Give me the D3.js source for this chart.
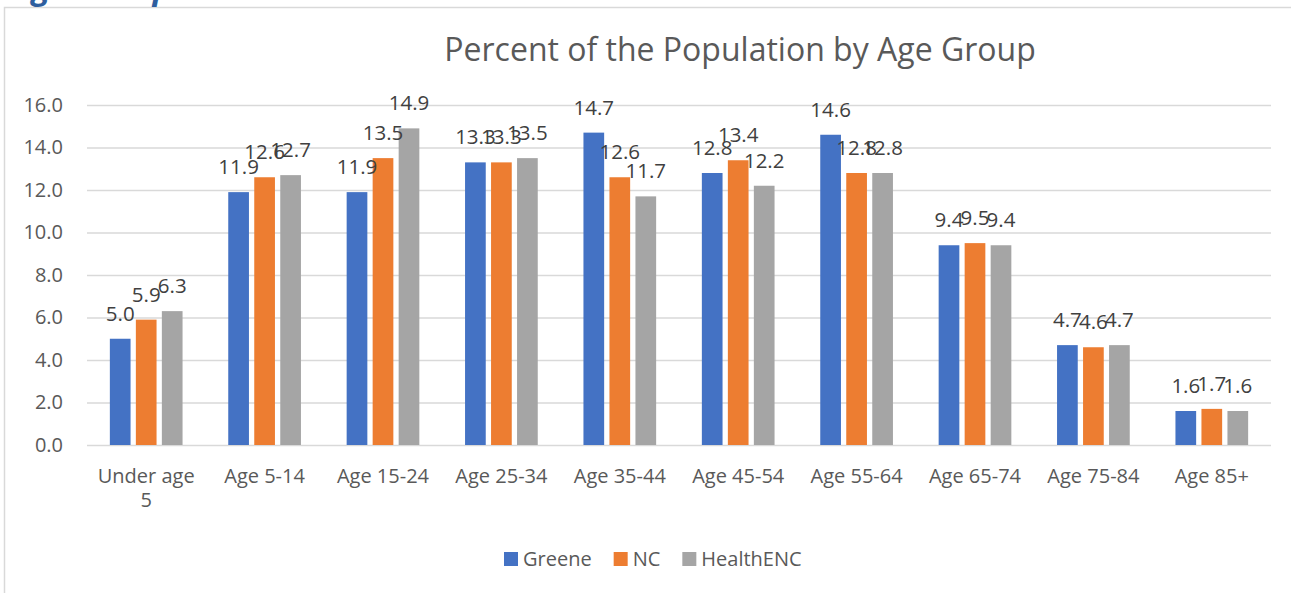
<!DOCTYPE html>
<html>
<head>
<meta charset="utf-8">
<script src="https://cdn.jsdelivr.net/npm/d3@7"></script>
<style>
  body { margin: 0; background: #fff; }
  svg { display: block; font-family: "Open Sans", sans-serif; }
</style>
</head>
<body>
<div id="chart"></div>
<script>
var categories = ["Under age 5", "Age 5-14", "Age 15-24", "Age 25-34", "Age 35-44",
                  "Age 45-54", "Age 55-64", "Age 65-74", "Age 75-84", "Age 85+"];
var seriesNames = ["Greene", "NC", "HealthENC"];
var greene    = [5.0, 11.9, 11.9, 13.3, 14.7, 12.8, 14.6, 9.4, 4.7, 1.6];
var nc        = [5.9, 12.6, 13.5, 13.3, 12.6, 13.4, 12.8, 9.5, 4.6, 1.7];
var healthEnc = [6.3, 12.7, 14.9, 13.5, 11.7, 12.2, 12.8, 9.4, 4.7, 1.6];
var yTicks = [0, 2, 4, 6, 8, 10, 12, 14, 16];

var width = 1291, height = 593;
var margin = {top: 105, right: 20, bottom: 148, left: 87};

var color = d3.scaleOrdinal().domain(seriesNames).range(["#4472C4", "#ED7D31", "#A5A5A5"]);

var values = [greene, nc, healthEnc];
var data = categories.map(function(c, i) {
  return {cat: c, vals: seriesNames.map(function(s, j) { return {name: s, value: values[j][i]}; })};
});

var x0 = d3.scaleBand().domain(categories)
    .range([margin.left, width - margin.right])
    .paddingInner(0.386).paddingOuter(0.193);
var x1 = d3.scaleBand().domain(seriesNames)
    .range([0, x0.bandwidth()])
    .paddingInner(0.204);
var y = d3.scaleLinear().domain([0, 16]).range([height - margin.bottom, margin.top]);

var svg = d3.select("#chart").append("svg")
    .attr("width", width)
    .attr("height", height);

// chart frame
svg.append("rect")
    .attr("x", 4.5).attr("y", 7.5)
    .attr("width", 1300).attr("height", 620)
    .attr("fill", "none")
    .attr("stroke", "#D9D9D9")
    .attr("stroke-width", 1.5);

// section heading cut off at the top
var head = svg.append("text")
    .attr("y", -1)
    .attr("font-size", 33)
    .attr("font-weight", "bold")
    .attr("font-style", "italic")
    .attr("fill", "#2E5E9E")
    .text("Age Groups");
head.attr("x", 32 - head.node().getSubStringLength(0, 1));

svg.append("text")
    .attr("x", 740).attr("y", 61)
    .attr("text-anchor", "middle")
    .attr("font-size", 32)
    .attr("fill", "#595959")
    .text("Percent of the Population by Age Group");

// gridlines
var yAxis = d3.axisLeft(y).tickValues(yTicks)
    .tickSize(-(width - margin.left - margin.right))
    .tickFormat(d3.format(".1f"));

svg.append("g")
    .attr("class", "y axis")
    .attr("transform", "translate(" + margin.left + ",0)")
    .call(yAxis)
    .call(function(g) {
      g.select(".domain").remove();
      g.selectAll(".tick line").attr("stroke", "#D9D9D9").attr("stroke-width", 1.5);
      g.selectAll(".tick text")
        .attr("x", -24)
        .attr("font-size", 20)
        .attr("font-family", "Open Sans, sans-serif")
        .attr("fill", "#595959");
    });

// bars
var groups = svg.selectAll("g.group")
    .data(data)
  .enter().append("g")
    .attr("class", "group")
    .attr("transform", function(d) { return "translate(" + x0(d.cat) + ",0)"; });

groups.selectAll("rect")
    .data(function(d) { return d.vals; })
  .enter().append("rect")
    .attr("x", function(d) { return x1(d.name); })
    .attr("y", function(d) { return y(d.value); })
    .attr("width", x1.bandwidth())
    .attr("height", function(d) { return y(0) - y(d.value); })
    .attr("fill", function(d) { return color(d.name); });

groups.selectAll("text.label")
    .data(function(d) { return d.vals; })
  .enter().append("text")
    .attr("class", "label")
    .attr("x", function(d) { return x1(d.name) + x1.bandwidth() / 2; })
    .attr("y", function(d) { return y(d.value) - 18; })
    .attr("text-anchor", "middle")
    .attr("font-size", 20.5)
    .attr("fill", "#404040")
    .text(function(d) { return d3.format(".1f")(d.value); });

// category labels, wrapped like Excel does
var xAxis = svg.append("g").attr("class", "x axis");
categories.forEach(function(c) {
  var t = xAxis.append("text")
      .attr("x", x0(c) + x0.bandwidth() / 2)
      .attr("y", 483)
      .attr("text-anchor", "middle")
      .attr("font-size", 20)
      .attr("fill", "#595959")
      .text(c);
  if (t.node().getComputedTextLength() > 108) {
    var words = c.split(" ");
    var last = words.pop();
    t.text(null);
    t.append("tspan").attr("x", x0(c) + x0.bandwidth() / 2).text(words.join(" "));
    t.append("tspan").attr("x", x0(c) + x0.bandwidth() / 2).attr("dy", 24).text(last);
  }
});

// legend
var legend = svg.append("g").attr("class", "legend");
var lx = 504;
seriesNames.forEach(function(s) {
  legend.append("rect")
      .attr("x", lx).attr("y", 552)
      .attr("width", 14).attr("height", 14)
      .attr("fill", color(s));
  var t = legend.append("text")
      .attr("x", lx + 19).attr("y", 566)
      .attr("font-size", 20)
      .attr("fill", "#595959")
      .text(s);
  lx += 19 + t.node().getComputedTextLength() + 22;
});
</script>
</body>
</html>
